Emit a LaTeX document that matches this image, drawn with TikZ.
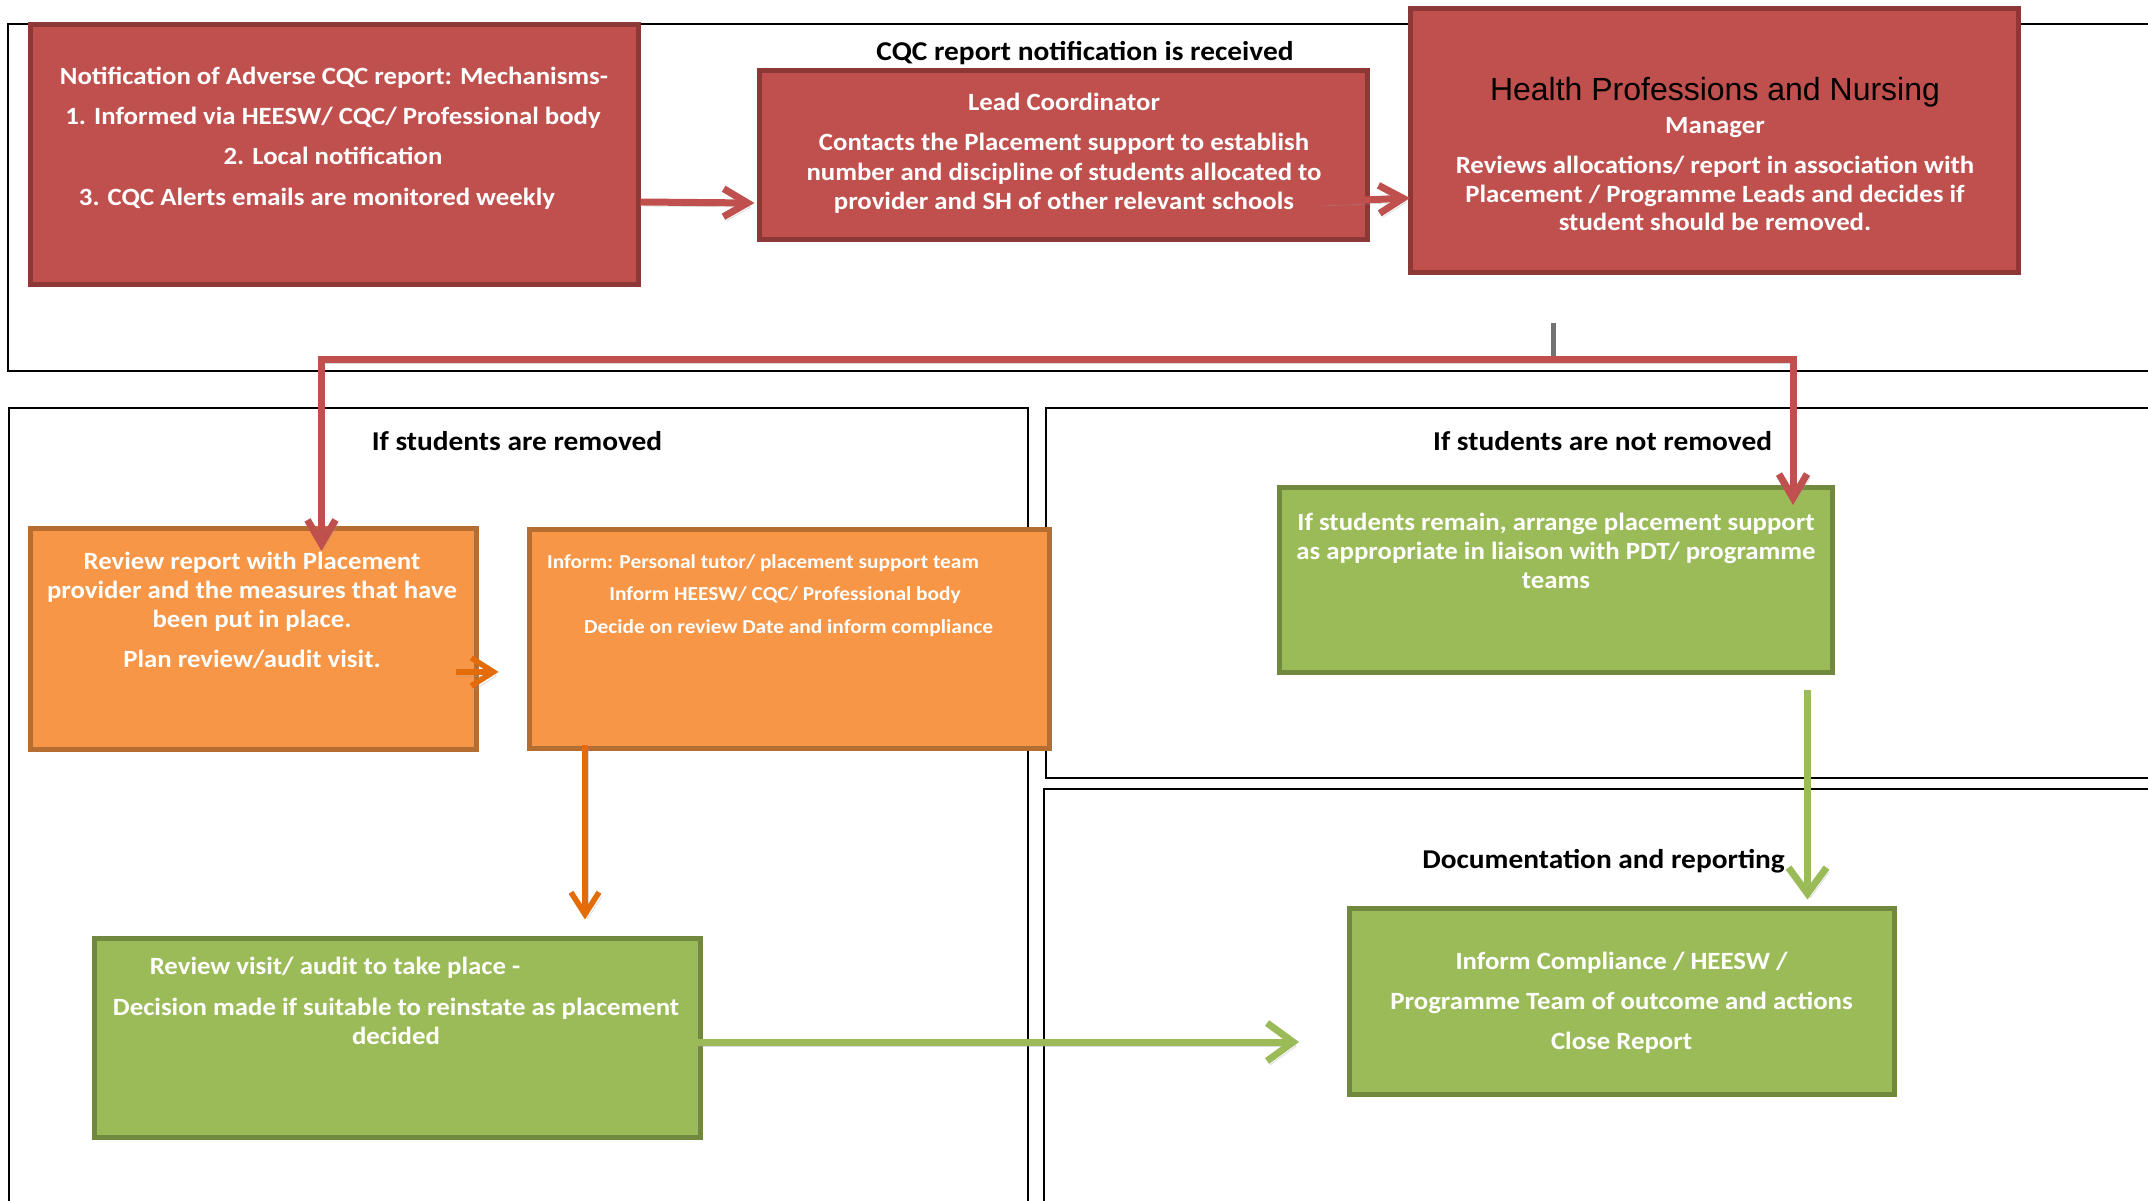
\documentclass[tikz,border=0pt]{standalone}
\usepackage{fontspec}
\setmainfont{Carlito}[FakeStretch=1.08]
\newfontfamily\arialfont{Liberation Sans}
\usetikzlibrary{arrows.meta,calc}
\definecolor{redfill}{HTML}{C0504D}
\definecolor{redline}{HTML}{8C3836}
\definecolor{orfill}{HTML}{F79646}
\definecolor{orline}{HTML}{B66D31}
\definecolor{grfill}{HTML}{9BBB59}
\definecolor{grline}{HTML}{71893F}
\definecolor{orarrow}{HTML}{E36C09}
\begin{document}
\begin{tikzpicture}[x=0.5pt,y=-0.5pt,
  frame/.style={draw=black,line width=1pt},
  boxbase/.style={line width=2.5pt,inner sep=0pt,rectangle},
  redbox/.style={boxbase,draw=redline,fill=redfill},
  orbox/.style={boxbase,draw=orline,fill=orfill},
  grbox/.style={boxbase,draw=grline,fill=grfill},
  wt/.style={text=white,font=\fontsize{12.4}{14}\selectfont\bfseries,inner sep=0pt,anchor=base},
  wts/.style={text=white,font=\fontsize{9.9}{12}\selectfont\bfseries,inner sep=0pt,anchor=base},
  hdr/.style={text=black,font=\fontsize{13.6}{15}\selectfont\bfseries,inner sep=0pt,anchor=base},
  shad/.style={preaction={draw=black!40,opacity=0.35,transform canvas={shift={(1.5pt,-2pt)}}}},
  barb/.style={-{Straight Barb[length=#1pt,width=14pt]}},
  redarrow/.style={shad,draw=redfill,line width=3.5pt,barb=12},
  orarr/.style={shad,draw=orarrow,line width=2.8pt,barb=11},
  grarr/.style={shad,draw=grfill,line width=3.5pt,-{Straight Barb[length=13pt,width=19pt]}},
  stub/.style={draw=black!55,line width=2.5pt}]
\path[use as bounding box] (0,0) rectangle (2148,1200);
\clip (0,0) rectangle (2148,1200);

% frames
\draw[frame] (8,24) rectangle (2170,371);
\draw[frame] (9,408) rectangle (1027.6,1220);
\draw[frame] (1045.6,408) rectangle (2170,778);
\draw[frame] (1043.5,789) rectangle (2170,1220);

% boxes
\node[redbox,minimum width=304pt,minimum height=130pt] (b1) at (334,154.4) {};
\node[redbox,minimum width=304pt,minimum height=84.5pt] (b2) at (1063.5,155) {};
\node[redbox,minimum width=304pt,minimum height=132pt] (b3) at (1714.5,140.5) {};
\node[orbox,minimum width=223pt,minimum height=110.5pt] (b4) at (253,638.9) {};
\node[orbox,minimum width=260pt,minimum height=109.5pt] (b5) at (789.5,638.9) {};
\node[grbox,minimum width=303pt,minimum height=99.5pt] (b6) at (397,1038) {};
\node[grbox,minimum width=276.5pt,minimum height=92.5pt] (b7) at (1556,580) {};
\node[grbox,minimum width=272.5pt,minimum height=93pt] (b8) at (1622,1001.4) {};

% texts
\node[wt] (t1a) at (334,84.2) {Notification of Adverse CQC report: Mechanisms-};
\node[wt] (t1b) at (333,124.5) {1. Informed via HEESW/ CQC/ Professional body};
\node[wt] (t1c) at (333,164.5) {2. Local notification};
\node[wt] (t1d) at (317,205.5) {3. CQC Alerts emails are monitored weekly};

\node[hdr] (h1) at (1085,60.7) {CQC report notification is received};
\node[wt] (t2a) at (1064,110.5) {Lead Coordinator};
\node[wt] (t2b) at (1064,150.5) {Contacts the Placement support to establish};
\node[wt] (t2c) at (1064,180.5) {number and discipline of students allocated to};
\node[wt] (t2d) at (1064,209.5) {provider and SH of other relevant schools};

\node[anchor=base,inner sep=0pt,font=\arialfont\fontsize{16}{19}\selectfont] (t3a) at (1715,100) {Health Professions and Nursing};
\node[wt] (t3b) at (1715,133.3) {Manager};
\node[wt] (t3c) at (1715,173.5) {Reviews allocations/ report in association with};
\node[wt] (t3d) at (1715,202.5) {Placement / Programme Leads and decides if};
\node[wt] (t3e) at (1715,230.5) {student should be removed.};

\node[hdr] (h2) at (517,450.7) {If students are removed};
\node[wt] (t4a) at (252,569.5) {Review report with Placement};
\node[wt] (t4b) at (252,598.5) {provider and the measures that have};
\node[wt] (t4c) at (252,627.5) {been put in place.};
\node[wt] (t4d) at (252,667.5) {Plan review/audit visit.};

\node[wts] (t5a) at (763,568) {Inform: Personal tutor/ placement support team};
\node[wts] (t5b) at (785,600.5) {Inform HEESW/ CQC/ Professional body};
\node[wts] (t5c) at (788.6,633) {Decide on review Date and inform compliance};

\node[wt] (t6a) at (335,974) {Review visit/ audit to take place -};
\node[wt] (t6b) at (396,1015.5) {Decision made if suitable to reinstate as placement};
\node[wt] (t6c) at (396,1044) {decided};

\node[hdr] (h3) at (1602.6,450.7) {If students are not removed};
\node[wt] (t7a) at (1556,530) {If students remain, arrange placement support};
\node[wt] (t7b) at (1556,559) {as appropriate in liaison with PDT/ programme};
\node[wt] (t7c) at (1556,588.5) {teams};

\node[hdr] (h4) at (1603.6,868) {Documentation and reporting};
\node[wt] (t8a) at (1621.6,969) {Inform Compliance / HEESW /};
\node[wt] (t8b) at (1621.6,1009) {Programme Team of outcome and actions};
\node[wt] (t8c) at (1621.6,1049) {Close Report};

% connectors
\coordinate (split) at (1553,359);
\draw[stub] ($(b3.south)+(-161.5,48)$) -- (split);
\draw[redarrow] (split) -| ($(b4.north west)+(294,25)$);
\draw[redarrow] (split) -| ($(b7.north west)+(516,20)$);
\draw[redarrow] ($(b1.east)+(0,47.6)$) -- ($(b2.west)+(-2.5,48)$);
\draw[redarrow] ($(b2.east)+(-52.5,47)$) -- ($(b3.west)+(2,57.5)$);
\draw[orarr] ($(b4.east)+(-23,33)$) -- ($(b5.west)+(-28.5,33)$);
\draw[orarr] ($(b5.south west)+(58,-6.4)$) -- ($(b6.north west)+(493.5,-16.5)$);
\draw[grarr] ($(b6.east)+(-9,4)$) -- ($(b8.west)+(-48,40.6)$);
\draw[grarr] ($(b7.south east)+(-27.5,14.5)$) -- ($(b8.north east)+(-89.5,-6.4)$);
\end{tikzpicture}
\end{document}
